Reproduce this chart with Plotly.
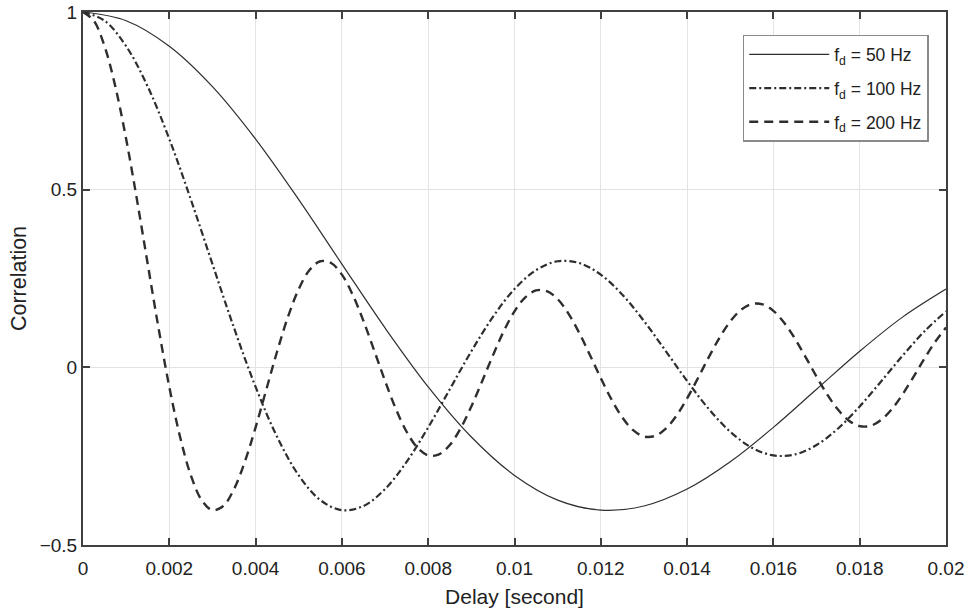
import plotly.graph_objects as go

# Delay grids (seconds)
delay_50 = [0, 0.001, 0.002, 0.003, 0.004, 0.005, 0.006, 0.007, 0.008, 0.009, 0.010,
            0.011, 0.012, 0.013, 0.014, 0.015, 0.016, 0.017, 0.018, 0.019, 0.020]
delay_100 = [0, 0.0005, 0.001, 0.0015, 0.002, 0.0025, 0.003, 0.0035, 0.004, 0.0045,
             0.005, 0.0055, 0.006, 0.0065, 0.007, 0.0075, 0.008, 0.0085, 0.009, 0.0095,
             0.010, 0.0105, 0.011, 0.0115, 0.012, 0.0125, 0.013, 0.0135, 0.014, 0.0145,
             0.015, 0.0155, 0.016, 0.0165, 0.017, 0.0175, 0.018, 0.0185, 0.019, 0.0195, 0.020]
delay_200 = [0, 0.00025, 0.0005, 0.00075, 0.001, 0.00125, 0.0015, 0.00175, 0.002, 0.00225,
             0.0025, 0.00275, 0.003, 0.00325, 0.0035, 0.00375, 0.004, 0.00425, 0.0045, 0.00475,
             0.005, 0.00525, 0.0055, 0.00575, 0.006, 0.00625, 0.0065, 0.00675, 0.007, 0.00725,
             0.0075, 0.00775, 0.008, 0.00825, 0.0085, 0.00875, 0.009, 0.00925, 0.0095, 0.00975,
             0.010, 0.01025, 0.0105, 0.01075, 0.011, 0.01125, 0.0115, 0.01175, 0.012, 0.01225,
             0.0125, 0.01275, 0.013, 0.01325, 0.0135, 0.01375, 0.014, 0.01425, 0.0145, 0.01475,
             0.015, 0.01525, 0.0155, 0.01575, 0.016, 0.01625, 0.0165, 0.01675, 0.017, 0.01725,
             0.0175, 0.01775, 0.018, 0.01825, 0.0185, 0.01875, 0.019, 0.01925, 0.0195, 0.01975, 0.020]

# Correlation values
corr_50 = [1.0000, 0.9755, 0.9037, 0.7900, 0.6425, 0.4720, 0.2906, 0.1109, -0.0550, -0.1961,
           -0.3042, -0.3736, -0.4019, -0.3903, -0.3426, -0.2658, -0.1689, -0.0617, 0.0452, 0.1420,
           0.2203]
corr_100 = [1.0000, 0.9755, 0.9037, 0.7900, 0.6425, 0.4720, 0.2906, 0.1109, -0.0550, -0.1961,
            -0.3042, -0.3736, -0.4019, -0.3903, -0.3426, -0.2658, -0.1689, -0.0617, 0.0452, 0.1420,
            0.2203, 0.2737, 0.2985, 0.2935, 0.2608, 0.2043, 0.1304, 0.0468, -0.0383, -0.1167,
            -0.1812, -0.2261, -0.2479, -0.2451, -0.2187, -0.1720, -0.1100, -0.0391, 0.0337, 0.1014,
            0.1575]
corr_200 = [1.0000, 0.9755, 0.9037, 0.7900, 0.6425, 0.4720, 0.2906, 0.1109, -0.0550, -0.1961,
            -0.3042, -0.3736, -0.4019, -0.3903, -0.3426, -0.2658, -0.1689, -0.0617, 0.0452, 0.1420,
            0.2203, 0.2737, 0.2985, 0.2935, 0.2608, 0.2043, 0.1304, 0.0468, -0.0383, -0.1167,
            -0.1812, -0.2261, -0.2479, -0.2451, -0.2187, -0.1720, -0.1100, -0.0391, 0.0337, 0.1014,
            0.1575, 0.1970, 0.2165, 0.2146, 0.1920, 0.1513, 0.0969, 0.0342, -0.0305, -0.0908,
            -0.1412, -0.1769, -0.1947, -0.1933, -0.1732, -0.1367, -0.0875, -0.0308, 0.0280, 0.0830,
            0.1291, 0.1618, 0.1783, 0.1773, 0.1590, 0.1256, 0.0805, 0.0282, -0.0260, -0.0769,
            -0.1196, -0.1501, -0.1655, -0.1647, -0.1478, -0.1168, -0.0749, -0.0262, 0.0244, 0.0720,
            0.1120]

x_ticks = [0, 0.002, 0.004, 0.006, 0.008, 0.010, 0.012, 0.014, 0.016, 0.018, 0.020]
x_tick_labels = ["0", "0.002", "0.004", "0.006", "0.008", "0.01", "0.012", "0.014", "0.016", "0.018", "0.02"]
y_ticks = [-0.5, 0, 0.5, 1]
y_tick_labels = ["\u22120.5", "0", "0.5", "1"]

series_names = ["f<sub>d</sub> = 50 Hz", "f<sub>d</sub> = 100 Hz", "f<sub>d</sub> = 200 Hz"]

ink = "#2e2e2e"
font_family = "Liberation Sans, Arial, sans-serif"

fig = go.Figure()
fig.add_trace(go.Scatter(x=delay_50, y=corr_50, mode="lines", name=series_names[0], legendgroup="a",
                         line=dict(color=ink, width=1.2, shape="spline")))
fig.add_trace(go.Scatter(x=delay_100, y=corr_100, mode="lines", name=series_names[1], legendgroup="b",
                         line=dict(color=ink, width=2.2, shape="spline", dash="7px,3px,2px,3px")))
fig.add_trace(go.Scatter(x=delay_200, y=corr_200, mode="lines", name=series_names[2], legendgroup="c",
                         line=dict(color=ink, width=2.4, shape="spline", dash="9px,6px")))

axis_common = dict(
    showline=True, linecolor="#404040", linewidth=2, mirror="allticks",
    ticks="inside", ticklen=7, tickcolor="#404040", tickwidth=1.5,
    showgrid=True, gridcolor="#e3e3e3", gridwidth=1,
    zeroline=False, automargin=False,
    tickfont=dict(family=font_family, size=19, color="#222"),
)

fig.update_xaxes(range=[0, 0.02], tickvals=x_ticks, ticktext=x_tick_labels,
                 ticklabelstandoff=5,
                 title=dict(text="Delay [second]", font=dict(family=font_family, size=21, color="#222"),
                            standoff=12),
                 **axis_common)
fig.update_yaxes(range=[-0.5, 1], tickvals=y_ticks, ticktext=y_tick_labels,
                 title=dict(text="Correlation", font=dict(family=font_family, size=21.5, color="#222"),
                            standoff=7),
                 **axis_common)

fig.update_layout(
    width=968, height=615, autosize=False,
    margin=dict(l=83, r=22, t=12, b=70),
    plot_bgcolor="white", paper_bgcolor="white",
    font=dict(family=font_family, color="#222"),
    legend=dict(x=0.980, y=0.957, xanchor="right", yanchor="top",
                bgcolor="white", bordercolor="#8a8a8a", borderwidth=1.5,
                font=dict(family=font_family, size=17.5, color="#222"),
                itemwidth=80, tracegroupgap=8),
)

fig.write_html("out.html",
               config={"displayModeBar": False},
               post_script="document.body.style.margin='0';document.body.style.overflow='hidden';")
